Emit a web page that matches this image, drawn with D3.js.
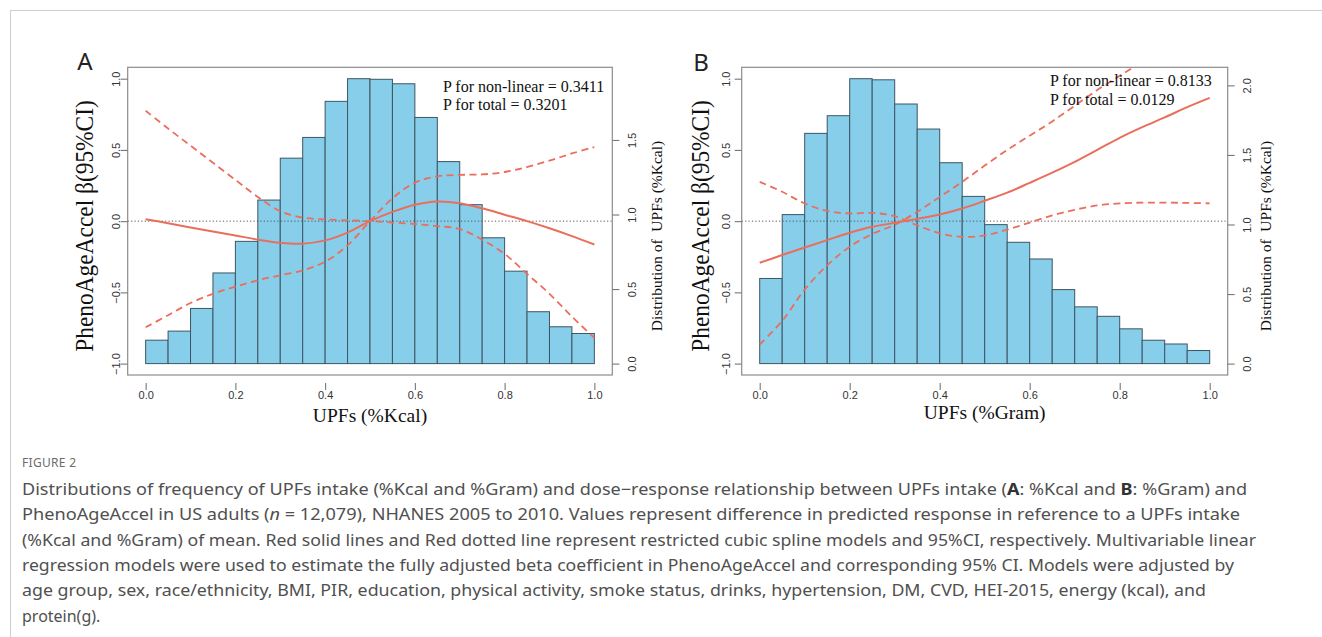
<!DOCTYPE html>
<html><head><meta charset="utf-8">
<script src="https://cdn.jsdelivr.net/npm/d3@7/dist/d3.min.js"></script>
<style>body{margin:0;background:#fff}svg{display:block}</style>
</head><body>
<svg id="c" width="1322" height="637"></svg>
<script>
// ---------- data ----------
const binStart = [0.00,0.05,0.10,0.15,0.20,0.25,0.30,0.35,0.40,0.45,0.50,0.55,0.60,0.65,0.70,0.75,0.80,0.85,0.90,0.95];
const binWidth = 0.05;
const histKcal = [0.157,0.218,0.370,0.608,0.820,1.097,1.378,1.517,1.759,1.911,1.907,1.877,1.651,1.355,1.066,0.844,0.620,0.348,0.247,0.202];
const histGram = [0.612,1.071,1.655,1.782,2.048,2.040,1.866,1.686,1.444,1.202,0.999,0.872,0.752,0.532,0.408,0.340,0.250,0.168,0.141,0.094];

const splineX = [0.00,0.05,0.10,0.15,0.20,0.25,0.30,0.35,0.40,0.45,0.50,0.55,0.60,0.65,0.70,0.75,0.80,0.85,0.90,0.95,1.00];
const kcalFit = [0.014,-0.015,-0.045,-0.072,-0.100,-0.130,-0.152,-0.158,-0.135,-0.080,0.000,0.065,0.115,0.138,0.125,0.090,0.045,0.000,-0.050,-0.105,-0.164];
const kcalCI1 = [0.775,0.650,0.530,0.410,0.290,0.170,0.070,0.025,0.012,0.006,0.000,-0.010,-0.020,-0.035,-0.055,-0.130,-0.230,-0.370,-0.510,-0.670,-0.820];
const kcalCI2 = [-0.745,-0.660,-0.575,-0.510,-0.460,-0.415,-0.380,-0.345,-0.285,-0.170,0.000,0.160,0.270,0.315,0.325,0.328,0.345,0.380,0.425,0.475,0.520];
const gramFit = [-0.292,-0.238,-0.185,-0.133,-0.082,-0.040,-0.012,0.016,0.047,0.089,0.143,0.200,0.269,0.340,0.416,0.500,0.585,0.660,0.728,0.800,0.865];
const gramCI1 = [0.276,0.206,0.124,0.072,0.054,0.058,0.035,-0.030,-0.085,-0.110,-0.100,-0.060,-0.010,0.040,0.080,0.110,0.125,0.130,0.130,0.128,0.125];
const gramCI2 = [-0.866,-0.700,-0.480,-0.310,-0.180,-0.090,-0.025,0.065,0.170,0.276,0.390,0.500,0.600,0.700,0.810,0.920,1.020,1.120,1.220,1.320,1.420];

const xTicks = [0,0.2,0.4,0.6,0.8,1.0];
const leftTicks = [-1,-0.5,0,0.5,1];
const rightTicksKcal = [0,0.5,1,1.5];
const rightTicksGram = [0,0.5,1,1.5,2];

const pTextKcal = ["P for non-linear = 0.3411","P for total = 0.3201"];
const pTextGram = ["P for non-linear = 0.8133","P for total = 0.0129"];

const captionLines = [
  [["Distributions of frequency of UPFs intake (%Kcal and %Gram) and dose\u2212response relationship between UPFs intake ("],["A","b"],[": %Kcal and "],["B","b"],[": %Gram) and"]],
  [["PhenoAgeAccel in US adults ("],["n","i"],[" = 12,079), NHANES 2005 to 2010. Values represent difference in predicted response in reference to a UPFs intake"]],
  [["(%Kcal and %Gram) of mean. Red solid lines and Red dotted line represent restricted cubic spline models and 95%CI, respectively. Multivariable linear"]],
  [["regression models were used to estimate the fully adjusted beta coefficient in PhenoAgeAccel and corresponding 95% CI. Models were adjusted by"]],
  [["age group, sex, race/ethnicity, BMI, PIR, education, physical activity, smoke status, drinks, hypertension, DM, CVD, HEI-2015, energy (kcal), and"]],
  [["protein(g)."]]
];
const captionWidths = [1225,1218,1234,1212,1184,null];

// ---------- drawing ----------
const svg = d3.select("#c");
const RED = "#EA6E5B";
const SERIF = "'Liberation Serif','Times New Roman',serif";
const SANS = "'Liberation Sans',Arial,sans-serif";

svg.append("line").attr("x1",10).attr("x2",1322).attr("y1",10.5).attr("y2",10.5).attr("stroke","#cfcfcf").attr("stroke-width",1);
svg.append("line").attr("x1",10.5).attr("x2",10.5).attr("y1",10).attr("y2",637).attr("stroke","#cfcfcf").attr("stroke-width",1);

const panels = [
  {id:"A", box:{l:127.7,r:612.3,t:67.3,b:375}, hist:histKcal, fit:kcalFit, ci1:kcalCI1, ci2:kcalCI2,
   rTicks:rightTicksKcal, xTitle:"UPFs (%Kcal)", p:pTextKcal, pX:443, pY:[91.5,109.8],
   lOff:12, rOff:19.5, yTitleX:84, rTitleX:656, xTitleY:421.5, labX:85, labY:60},
  {id:"B", box:{l:741.7,r:1227.7,t:67.3,b:375}, hist:histGram, fit:gramFit, ci1:gramCI1, ci2:gramCI2,
   rTicks:rightTicksGram, xTitle:"UPFs (%Gram)", p:pTextGram, pX:1050, pY:[86,104.6],
   lOff:15.5, rOff:19, yTitleX:700, rTitleX:1265, xTitleY:418.5, labX:701, labY:61}
];

panels.forEach((P,pi)=>{
  const g = svg.append("g");
  const b = P.box;
  const x = d3.scaleLinear().domain([-0.04,1.04]).range([b.l,b.r]);
  const y = d3.scaleLinear().domain([-1.08,1.08]).range([b.b,b.t]);
  const m = d3.max(P.hist);
  const y2 = d3.scaleLinear().domain([-0.04*m,1.04*m]).range([b.b,b.t]);

  const clipId = "clip"+P.id;
  svg.append("clipPath").attr("id",clipId).append("rect")
    .attr("x",b.l).attr("y",b.t).attr("width",b.r-b.l).attr("height",b.b-b.t);

  // histogram
  g.append("g").selectAll("rect").data(P.hist).join("rect")
    .attr("x",(d,i)=>x(binStart[i]))
    .attr("width",(d,i)=>x(binStart[i]+binWidth)-x(binStart[i]))
    .attr("y",d=>y2(d))
    .attr("height",d=>y2(0)-y2(d))
    .attr("fill","#87CEEB").attr("stroke","#3e5563").attr("stroke-width",1);

  // zero reference line
  g.append("line").attr("x1",b.l).attr("x2",b.r).attr("y1",y(0)).attr("y2",y(0))
    .attr("stroke","#555").attr("stroke-width",1).attr("stroke-dasharray","1.2,2.2");

  const line = d3.line().x(d=>x(d[0])).y(d=>y(d[1])).curve(d3.curveCatmullRom.alpha(0.5));
  const lg = g.append("g").attr("clip-path",`url(#${clipId})`);
  [P.ci1,P.ci2].forEach(ci=>{
    lg.append("path").datum(d3.zip(splineX,ci)).attr("d",line)
      .attr("fill","none").attr("stroke",RED).attr("stroke-width",1.8).attr("stroke-dasharray","7,4.5");
  });
  lg.append("path").datum(d3.zip(splineX,P.fit)).attr("d",line)
    .attr("fill","none").attr("stroke",RED).attr("stroke-width",2);

  // box
  g.append("rect").attr("x",b.l).attr("y",b.t).attr("width",b.r-b.l).attr("height",b.b-b.t)
    .attr("fill","none").attr("stroke","#8c8c8c").attr("stroke-width",1.2);

  // axes
  const fmt = d3.format(".1f");
  const ax = g.append("g").attr("transform",`translate(0,${b.b+8})`)
    .call(d3.axisBottom(x).tickValues(xTicks).tickFormat(fmt).tickSize(7).tickPadding(1));
  const al = g.append("g").attr("transform",`translate(${b.l},0)`)
    .call(d3.axisLeft(y).tickValues(leftTicks).tickFormat(fmt).tickSize(7));
  const ar = g.append("g").attr("transform",`translate(${b.r},0)`)
    .call(d3.axisRight(y2).tickValues(P.rTicks).tickFormat(fmt).tickSize(7));
  [ax,al,ar].forEach(a=>{
    a.select(".domain").remove();
    a.selectAll("line").attr("stroke","#777").attr("stroke-width",1.1);
    a.selectAll("text").attr("font-family",SANS).attr("font-size",11).attr("fill","#333");
  });
  al.selectAll("text").attr("transform","rotate(-90)").attr("x",0).attr("y",-P.lOff).attr("dy",null)
    .attr("text-anchor","middle").attr("dominant-baseline","central");
  ar.selectAll("text").attr("transform","rotate(-90)").attr("x",0).attr("y",P.rOff).attr("dy",null)
    .attr("text-anchor","middle").attr("dominant-baseline","central");

  // titles
  g.append("text").attr("transform",`translate(${P.yTitleX},226) rotate(-90) scale(0.9,1)`)
    .attr("text-anchor","middle").attr("dominant-baseline","central")
    .attr("font-family",SERIF).attr("font-size",26).attr("fill","#111")
    .text("PhenoAgeAccel \u03b2(95%CI)");
  g.append("text").attr("transform",`translate(${P.rTitleX},236) rotate(-90)`)
    .attr("text-anchor","middle").attr("dominant-baseline","central")
    .attr("font-family",SERIF).attr("font-size",15.5).attr("fill","#111")
    .style("white-space","pre")
    .text("Distribution of  UPFs (%Kcal)");
  g.append("text").attr("x",(b.l+b.r)/2).attr("y",P.xTitleY).attr("text-anchor","middle")
    .attr("font-family",SERIF).attr("font-size",19.5).attr("fill","#111").text(P.xTitle);
  P.p.forEach((t,i)=>{
    g.append("text").attr("x",P.pX).attr("y",P.pY[i]).attr("font-family",SERIF)
      .attr("font-size",16).attr("fill","#111").text(t);
  });
  g.append("text").attr("x",P.labX).attr("y",P.labY).attr("text-anchor","middle").attr("dominant-baseline","central")
    .attr("font-family","'Noto Sans',sans-serif").attr("font-size",24).attr("fill","#222").text(P.id);
});

// caption
svg.append("text").attr("x",22).attr("y",466.5).attr("font-family","'Noto Sans',sans-serif")
  .attr("font-size",12).attr("fill","#6b6b6b").attr("letter-spacing",0.3).text("FIGURE 2");
captionLines.forEach((segs,i)=>{
  const t = svg.append("text").attr("x",22).attr("y",495+i*25.3)
    .attr("font-family","'Noto Sans',sans-serif").attr("font-size",16).attr("fill","#505050");
  if(captionWidths[i]) t.attr("textLength",captionWidths[i]).attr("lengthAdjust","spacingAndGlyphs");
  segs.forEach(s=>{
    const ts = t.append("tspan").text(s[0]);
    if(s[1]==="b") ts.attr("font-weight","bold").attr("fill","#333");
    if(s[1]==="i") ts.attr("font-style","italic");
  });
});
</script>
</body></html>
